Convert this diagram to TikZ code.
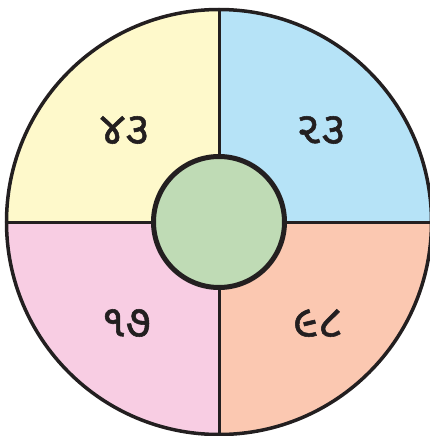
\documentclass[tikz,border=0pt]{standalone}
\usepackage{fontspec}
\newfontfamily\gujfont[Script=Gujarati,FakeBold=1.2]{Noto Sans Gujarati UI}
\definecolor{qyellow}{HTML}{FEF9CB}
\definecolor{qblue}{HTML}{B6E3F7}
\definecolor{qpink}{HTML}{F8CDE3}
\definecolor{qsalmon}{HTML}{FBC8B1}
\definecolor{qgreen}{HTML}{BFDBB5}
\definecolor{ink}{HTML}{231F20}
\tikzset{
  numlabel/.style={font=\gujfont\fontsize{45}{45}\selectfont, text=ink, inner sep=0pt},
  divider/.style={draw=ink, line width=3pt},
}
\begin{document}
\begin{tikzpicture}[x=1pt,y=-1pt]
\useasboundingbox (0,0) rectangle (430,436);
\clip (0,0) rectangle (430,436);
\coordinate (c) at (219,222);
\fill[qblue] (c) -- (431.5,222) arc[start angle=0,end angle=-90,radius=212.5] -- cycle;
\fill[qyellow] (c) -- (219,9.5) arc[start angle=-90,end angle=-180,radius=212.5] -- cycle;
\fill[qpink] (c) -- (6.5,222) arc[start angle=180,end angle=90,radius=212.5] -- cycle;
\fill[qsalmon] (c) -- (219,434.5) arc[start angle=90,end angle=0,radius=212.5] -- cycle;
\draw[divider] (6.5,222) -- (431.5,222);
\draw[divider] (219,9.5) -- (219,434.5);
\draw[draw=ink, line width=3.5pt] (c) circle[radius=212.5];
\node[circle, draw=ink, fill=qgreen, line width=5pt, minimum size=131pt, inner sep=0pt] (hub) at (c) {};
\node[numlabel] (n43) at (125,130) {૪૩};
\node[numlabel] (n23) at (321,130) {૨૩};
\node[numlabel] (n17) at (126,323) {૧૭};
\node[numlabel] (n98) at (318,323) {૯૮};
\end{tikzpicture}
\end{document}
